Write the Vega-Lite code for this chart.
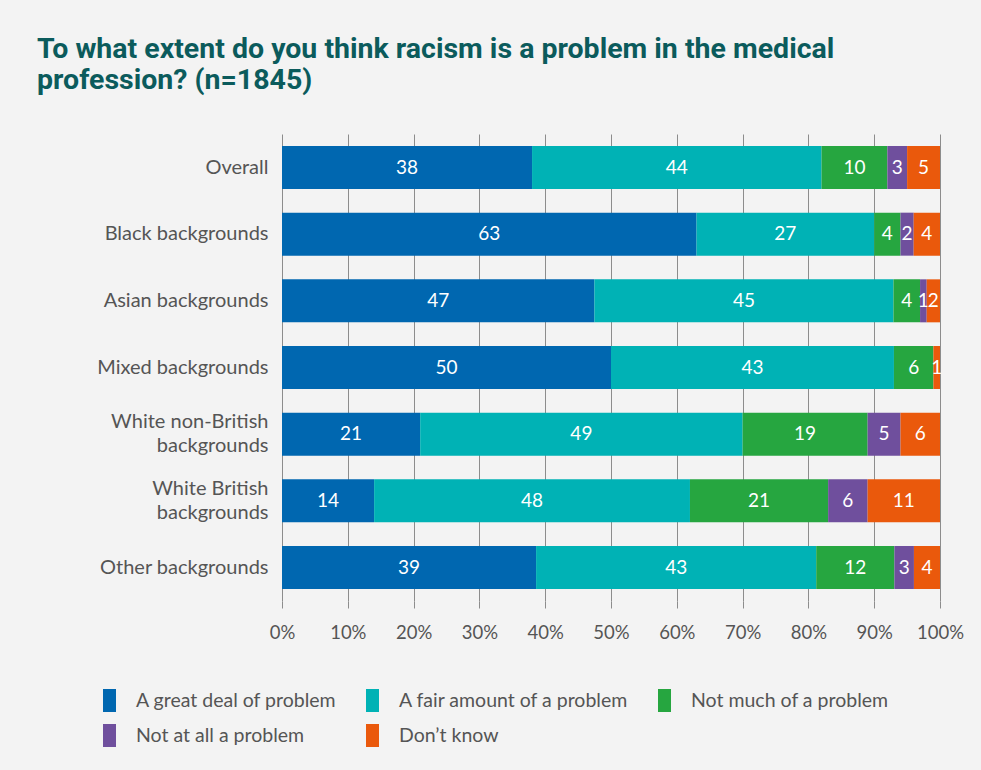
{
  "$schema": "https://vega.github.io/schema/vega-lite/v6.json",
  "width": 658,
  "height": 467,
  "autosize": "none",
  "padding": {"left": 282, "top": 134, "right": 41, "bottom": 169},
  "background": "#f3f3f3",
  "title": {
    "text": ["To what extent do you think racism is a problem in the medical", "profession? (n=1845)"],
    "anchor": "start",
    "frame": "group",
    "dx": -245,
    "font": "Roboto",
    "fontSize": 28.5,
    "fontWeight": "bold",
    "color": "#0b5b5c",
    "lineHeight": 31,
    "offset": 40
  },
  "config": {
    "view": {"stroke": null},
    "axis": {"labelFont": "Lato", "labelFontSize": 18, "labelColor": "#555555"}
  },
  "data": {
    "values": [
      {"g": "Overall", "r": "A great deal of problem", "k": 1, "v": 38},
      {"g": "Overall", "r": "A fair amount of a problem", "k": 2, "v": 44},
      {"g": "Overall", "r": "Not much of a problem", "k": 3, "v": 10},
      {"g": "Overall", "r": "Not at all a problem", "k": 4, "v": 3},
      {"g": "Overall", "r": "Don’t know", "k": 5, "v": 5},
      {"g": "Black backgrounds", "r": "A great deal of problem", "k": 1, "v": 63},
      {"g": "Black backgrounds", "r": "A fair amount of a problem", "k": 2, "v": 27},
      {"g": "Black backgrounds", "r": "Not much of a problem", "k": 3, "v": 4},
      {"g": "Black backgrounds", "r": "Not at all a problem", "k": 4, "v": 2},
      {"g": "Black backgrounds", "r": "Don’t know", "k": 5, "v": 4},
      {"g": "Asian backgrounds", "r": "A great deal of problem", "k": 1, "v": 47},
      {"g": "Asian backgrounds", "r": "A fair amount of a problem", "k": 2, "v": 45},
      {"g": "Asian backgrounds", "r": "Not much of a problem", "k": 3, "v": 4},
      {"g": "Asian backgrounds", "r": "Not at all a problem", "k": 4, "v": 1},
      {"g": "Asian backgrounds", "r": "Don’t know", "k": 5, "v": 2},
      {"g": "Mixed backgrounds", "r": "A great deal of problem", "k": 1, "v": 50},
      {"g": "Mixed backgrounds", "r": "A fair amount of a problem", "k": 2, "v": 43},
      {"g": "Mixed backgrounds", "r": "Not much of a problem", "k": 3, "v": 6},
      {"g": "Mixed backgrounds", "r": "Don’t know", "k": 5, "v": 1},
      {"g": "White non-British backgrounds", "r": "A great deal of problem", "k": 1, "v": 21},
      {"g": "White non-British backgrounds", "r": "A fair amount of a problem", "k": 2, "v": 49},
      {"g": "White non-British backgrounds", "r": "Not much of a problem", "k": 3, "v": 19},
      {"g": "White non-British backgrounds", "r": "Not at all a problem", "k": 4, "v": 5},
      {"g": "White non-British backgrounds", "r": "Don’t know", "k": 5, "v": 6},
      {"g": "White British backgrounds", "r": "A great deal of problem", "k": 1, "v": 14},
      {"g": "White British backgrounds", "r": "A fair amount of a problem", "k": 2, "v": 48},
      {"g": "White British backgrounds", "r": "Not much of a problem", "k": 3, "v": 21},
      {"g": "White British backgrounds", "r": "Not at all a problem", "k": 4, "v": 6},
      {"g": "White British backgrounds", "r": "Don’t know", "k": 5, "v": 11},
      {"g": "Other backgrounds", "r": "A great deal of problem", "k": 1, "v": 39},
      {"g": "Other backgrounds", "r": "A fair amount of a problem", "k": 2, "v": 43},
      {"g": "Other backgrounds", "r": "Not much of a problem", "k": 3, "v": 12},
      {"g": "Other backgrounds", "r": "Not at all a problem", "k": 4, "v": 3},
      {"g": "Other backgrounds", "r": "Don’t know", "k": 5, "v": 4}
    ]
  },
  "encoding": {
    "y": {
      "field": "g",
      "type": "nominal",
      "sort": ["Overall", "Black backgrounds", "Asian backgrounds", "Mixed backgrounds", "White non-British backgrounds", "White British backgrounds", "Other backgrounds"],
      "scale": {"paddingInner": 0.355, "paddingOuter": 0.18},
      "axis": {
        "title": null,
        "domain": false,
        "ticks": false,
        "labelPadding": 14,
        "labelLimit": 0,
        "labelFontSize": 20,
        "labelLineHeight": 24,
        "labelExpr": "datum.value == 'White non-British backgrounds' ? ['White non-British', 'backgrounds'] : datum.value == 'White British backgrounds' ? ['White British', 'backgrounds'] : datum.value",
        "labelOffset": {"condition": {"test": "indexof(datum.value, 'White') === 0", "value": -12}, "value": 0}
      }
    }
  },
  "layer": [
    {
      "mark": {"type": "bar"},
      "encoding": {
        "x": {
          "field": "v",
          "type": "quantitative",
          "stack": "normalize",
          "axis": {
            "title": null,
            "values": [0, 0.1, 0.2, 0.3, 0.4, 0.5, 0.6, 0.7, 0.8, 0.9, 1],
            "format": ".0%",
            "domain": false,
            "grid": true,
            "gridColor": "#8c8c8c",
            "gridWidth": 1,
            "tickColor": "#8c8c8c",
            "tickSize": 7,
            "labelFlush": false,
            "labelFontSize": 18.5,
            "labelPadding": 15
          }
        },
        "color": {
          "field": "r",
          "type": "nominal",
          "scale": {
            "domain": ["A great deal of problem", "A fair amount of a problem", "Not much of a problem", "Not at all a problem", "Don’t know"],
            "range": ["#0067b0", "#00b2b5", "#26a640", "#6f4f9d", "#ea590c"]
          },
          "legend": {
            "title": null,
            "orient": "none",
            "legendX": -184,
            "legendY": 555,
            "direction": "horizontal",
            "columns": 3,
            "symbolType": "M-0.565,-1H0.565V1H-0.565Z",
            "symbolSize": 529,
            "symbolStrokeWidth": 0,
            "symbolOpacity": 1,
            "labelFont": "Lato",
            "labelFontSize": 19.5,
            "labelColor": "#555555",
            "labelOffset": 15,
            "columnPadding": 24,
            "rowPadding": 12,
            "labelLimit": 0
          }
        },
        "order": {"field": "k", "type": "quantitative"}
      }
    },
    {
      "mark": {"type": "text", "color": "white", "font": "Lato", "fontSize": 19},
      "encoding": {
        "x": {"field": "v", "type": "quantitative", "stack": "normalize", "bandPosition": 0.5},
        "detail": {"field": "r", "type": "nominal"},
        "order": {"field": "k", "type": "quantitative"},
        "text": {"field": "v", "type": "quantitative"}
      }
    }
  ]
}
